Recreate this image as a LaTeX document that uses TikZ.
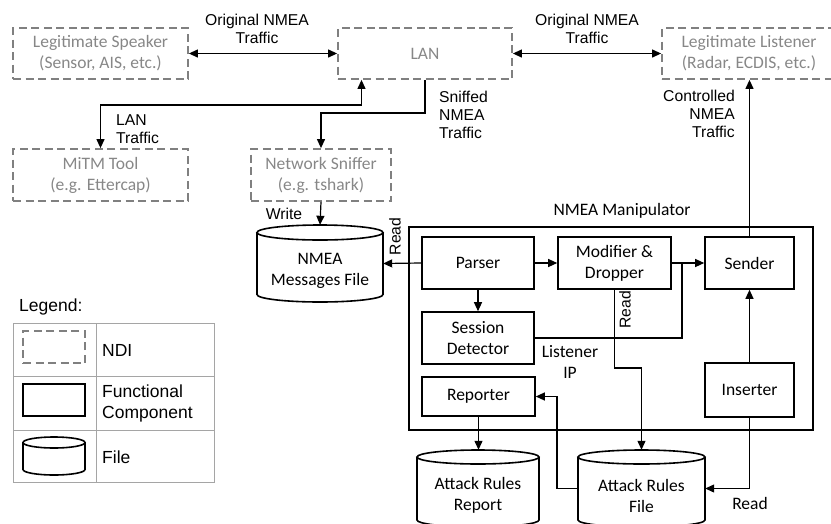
\documentclass[tikz,border=0pt]{standalone}
\usepackage{fontspec}
\setmainfont{Carlito}
\newfontfamily\arialf{Liberation Sans}
\usetikzlibrary{arrows.meta}
\definecolor{ndi}{RGB}{128,128,128}
\definecolor{nditext}{RGB}{135,135,135}
\definecolor{leggray}{RGB}{165,165,165}
\newcommand\calf{\fontsize{17.5}{21}\selectfont}
\newcommand\arf{\arialf\fontsize{15.7}{18}\selectfont}
\newcommand\arlf{\arialf\fontsize{17.5}{21}\selectfont}
\tikzset{
  ndibox/.style={draw=ndi, line width=1.8pt, dash pattern=on 8pt off 4.5pt, text=nditext, align=center, inner sep=0pt, font=\calf},
  fbox/.style={draw, line width=1.6pt, align=center, inner sep=0pt, font=\calf},
  lbl/.style={font=\arf, align=center, inner sep=0pt},
  ctext/.style={font=\calf, align=center, inner sep=0pt},
  conn/.style={line width=1.2pt, -{Triangle[length=9pt,width=8pt]}},
  dconn/.style={line width=1.2pt, {Triangle[length=9pt,width=8pt]}-{Triangle[length=9pt,width=8pt]}},
  plain/.style={line width=1.2pt},
  cylline/.style={line width=1.6pt},
}
% name, cx, cy, halfwidth, halfheight, ry, text
\newcommand\filecyl[7]{%
  \node[inner sep=0pt, minimum width={2*#4*1pt}, minimum height={2*#5*1pt}] (#1) at (#2,#3) {};
  \draw[cylline] (#2,#3-#5+#6) ellipse[x radius=#4, y radius=#6];
  \draw[cylline] (#2-#4,#3-#5+#6) -- (#2-#4,#3+#5-#6) arc[start angle=180,end angle=0,x radius=#4,y radius=#6] -- (#2+#4,#3-#5+#6);
  \node[ctext] (#1t) at (#2,#3+#6) {#7};
}
\begin{document}
\begin{tikzpicture}[x=1pt,y=-1pt]
\useasboundingbox (0,0) rectangle (831,523);
\clip (0,0) rectangle (831,523);

% NDI boxes
\node[ndibox, minimum width=175pt, minimum height=51pt] (speaker) at (100.5,53.5) {Legitimate Speaker\\(Sensor, AIS, etc.)};
\node[ndibox, minimum width=174pt, minimum height=51pt] (lan) at (425,53.5) {LAN};
\node[ndibox, minimum width=174pt, minimum height=51pt] (listener) at (749,53.5) {Legitimate Listener\\(Radar, ECDIS, etc.)};
\node[ndibox, minimum width=175pt, minimum height=52pt] (mitm) at (100.5,175) {MiTM Tool\\(e.g. Ettercap)};
\node[ndibox, minimum width=140pt, minimum height=52pt] (sniffer) at (321,175) {Network Sniffer\\(e.g. tshark)};

% Manipulator
\node[draw, line width=2.2pt, minimum width=404pt, minimum height=203pt, inner sep=0pt] (manip) at (611,328.5) {};
\node[ctext] (maniplbl) at (622,211) {NMEA Manipulator};

% functional components
\node[fbox, minimum width=112pt, minimum height=52pt] (parser) at (478,263) {Parser};
\node[fbox, minimum width=112pt, minimum height=52pt] (session) at (478,338) {Session\\Detector};
\node[fbox, minimum width=113pt, minimum height=52pt] (modifier) at (614.5,263) {Modifier \&\\Dropper};
\node[fbox, minimum width=89pt, minimum height=52pt] (sender) at (749.5,263) {Sender};
\node[fbox, minimum width=113pt, minimum height=39pt] (reporter) at (478.5,396.5) {Reporter};
\node[fbox, minimum width=89pt, minimum height=54pt] (inserter) at (749.5,390) {Inserter};

% files
\filecyl{nmf}{320}{263.5}{63}{38.5}{7.5}{NMEA\\Messages File}
\filecyl{arr}{478}{488.5}{61}{38.5}{7}{Attack Rules\\Report}
\filecyl{arf}{641.5}{488.5}{63.5}{38.5}{7}{Attack Rules\\File}

% top connectors
\draw[dconn] (speaker.east) -- (lan.west);
\draw[dconn] (lan.east) -- (listener.west);
\coordinate (l1) at (361.5,105);
\draw[dconn] (lan.south -| l1) -- (l1) -| (mitm.north);
\coordinate (s1) at (425,113);
\draw[conn] (lan.south) -- (s1) -| (sniffer.north);
\draw[conn] (sender.north) -- (sender.north |- listener.south);
\draw[conn] (sniffer.south) -- (nmf.north);

% manipulator connectors
\draw[conn] (parser.west) -- (nmf.east);
\draw[conn] (parser.south) -- (session.north);
\draw[conn] (parser.east) -- (modifier.west);
\draw[conn] (modifier.east) -- (sender.west);
\coordinate (j) at (682,263);
\draw[plain] (session.east) -| (j);
\coordinate (m1) at (614.5,368);
\draw[conn] (modifier.south) -- (m1) -| (arf.north);
\draw[conn] (inserter.north) -- (sender.south);
\draw[conn] (inserter.south) |- (arf.east);
\coordinate (r1) at (557,396.5);
\draw[conn] (arf.west) -| (r1) -- (reporter.east);
\draw[conn] (reporter.south) -- (reporter.south |- arr.north);

% labels
\node[lbl] (lab1) at (257,29) {Original NMEA\\Traffic};
\node[lbl] (lab2) at (587,29) {Original NMEA\\Traffic};
\node[lbl, align=left, anchor=west] (lab3) at (116,129) {LAN\\Traffic};
\node[lbl, align=left, anchor=west] (lab4) at (439,115) {Sniffed\\NMEA\\Traffic};
\node[lbl, align=right, anchor=east] (lab5) at (735,114) {Controlled\\NMEA\\Traffic};
\node[lbl] (lab6) at (284,214) {Write};
\node[lbl, rotate=90] (lab7) at (395,236.5) {Read};
\node[lbl, rotate=90] (lab8) at (625,310) {Read};
\node[ctext] (lab9) at (570,361.5) {Listener\\IP};
\node[ctext] (lab10) at (750,503) {Read};

% legend
\node[font=\arlf, anchor=west, inner sep=0pt] (legtitle) at (19,307) {Legend:};
\draw[leggray, line width=0.9pt] (13,323) rectangle (214,482);
\draw[leggray, line width=0.9pt] (96,323) -- (96,482);
\draw[leggray, line width=0.9pt] (13,376) -- (214,376);
\draw[leggray, line width=0.9pt] (13,430) -- (214,430);
\node[draw=ndi, line width=1.8pt, dash pattern=on 8pt off 4.5pt, minimum width=62pt, minimum height=32pt, inner sep=0pt] (legndi) at (54,347) {};
\node[draw, line width=1.6pt, minimum width=62pt, minimum height=32pt, inner sep=0pt] (legfc) at (54,400) {};
\filecyl{legfile}{54}{456}{31}{19}{5.5}{}
\node[font=\arlf, anchor=west, align=left, inner sep=0pt] (legt1) at (102,350) {NDI};
\node[font=\arlf, anchor=west, align=left, inner sep=0pt] (legt2) at (102,403.5) {Functional\\Component};
\node[font=\arlf, anchor=west, align=left, inner sep=0pt] (legt3) at (102,457) {File};
\end{tikzpicture}
\end{document}
